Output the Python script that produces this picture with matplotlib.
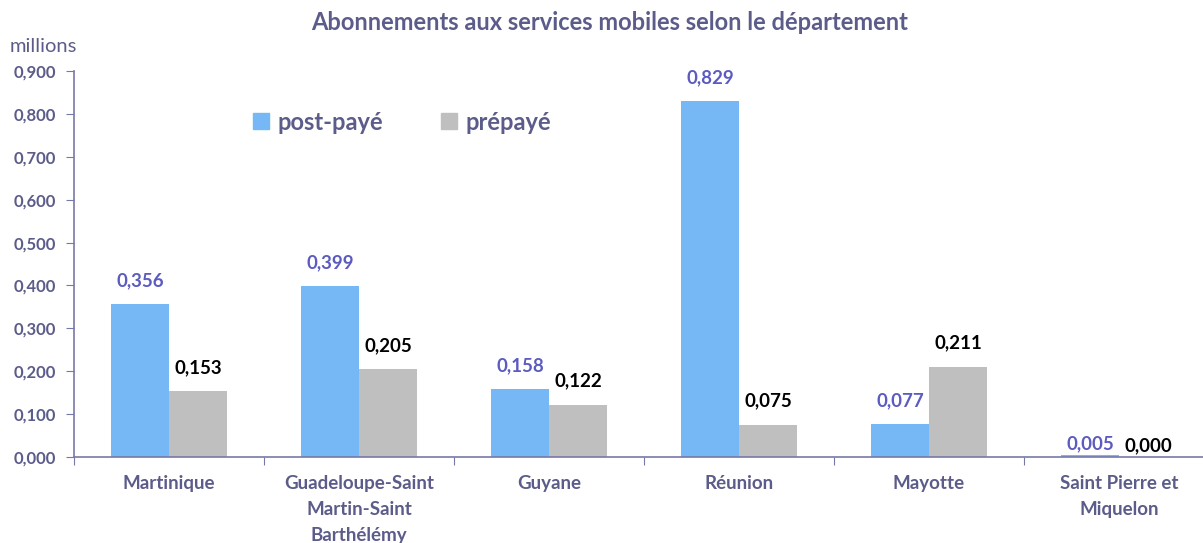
import matplotlib
matplotlib.use("Agg")
import matplotlib.pyplot as plt
import numpy as np
from matplotlib.lines import Line2D

categories = ["Martinique", "Guadeloupe-Saint\nMartin-Saint\nBarthélémy", "Guyane",
              "Réunion", "Mayotte", "Saint Pierre et\nMiquelon"]
post_paye = [0.356, 0.399, 0.158, 0.829, 0.077, 0.005]
prepaye = [0.153, 0.205, 0.122, 0.075, 0.211, 0.000]
series_names = ["post-payé", "prépayé"]
yticks = [0.0, 0.1, 0.2, 0.3, 0.4, 0.5, 0.6, 0.7, 0.8, 0.9]

plt.rcParams['font.family'] = ['Lato', 'DejaVu Sans']
W, H = 1203, 543
fig = plt.figure(figsize=(W / 100, H / 100), dpi=100)
ax = fig.add_axes([74 / W, (H - 457) / H, 1140 / W, 386 / H])

blue = "#75B8F5"
gray = "#BFBFBF"
txt = "#5C5C8A"
axis_col = "#7878A8"
lab_blue = "#5B5BC0"

x = np.arange(len(categories))
bw = 0.305
ax.bar(x - bw / 2, post_paye, bw, color=blue, zorder=2)
ax.bar(x + bw / 2, prepaye, bw, color=gray, zorder=2)

for xi, v in zip(x, post_paye):
    off = 8 if v < 0.01 else 17
    ax.annotate(f"{v:.3f}".replace(".", ","), (xi - bw / 2, v), xytext=(0, off),
                textcoords="offset points", ha="center", va="center",
                fontsize=13.5, fontweight="bold", color=lab_blue, clip_on=False)
for xi, v in zip(x, prepaye):
    off = 8 if v < 0.01 else 17
    ax.annotate(f"{v:.3f}".replace(".", ","), (xi + bw / 2, v), xytext=(0, off),
                textcoords="offset points", ha="center", va="center",
                fontsize=13.5, fontweight="bold", color="black", clip_on=False)

ax.set_xlim(-0.5, len(categories) - 0.5)
ax.set_ylim(0, 0.9)
ax.set_yticks(yticks)
ax.set_yticklabels([f"{t:.3f}".replace(".", ",") for t in yticks],
                   fontsize=12, fontweight="bold", color=txt)
ax.set_xticks(np.arange(len(categories) + 1) - 0.5)
ax.set_xticklabels([])
ax.set_xticks(x, minor=True)
ax.set_xticklabels(categories, minor=True, fontsize=13.5, fontweight="bold",
                   color=txt, linespacing=1.65)
ax.tick_params(axis="x", which="minor", length=0, pad=13)
ax.tick_params(axis="x", which="major", length=6, color=axis_col, direction="out")
ax.tick_params(axis="y", length=6, color=axis_col, direction="out", pad=7)

for s in ["top", "right"]:
    ax.spines[s].set_visible(False)
for s in ["left", "bottom"]:
    ax.spines[s].set_color(axis_col)
    ax.spines[s].set_linewidth(1.2)

fig.text(610 / W, 1 - 23 / H, "Abonnements aux services mobiles selon le département",
         ha="center", va="center", fontsize=17, fontweight="bold", color=txt)
fig.text(10 / W, 1 - 47 / H, "millions", ha="left", va="center", fontsize=14.5, color=txt)

handles = [Line2D([], [], marker="s", linestyle="none", markersize=12, color=blue),
           Line2D([], [], marker="s", linestyle="none", markersize=12, color=gray)]
leg = fig.legend(handles, series_names, loc="center left",
                 bbox_to_anchor=(228 / W, 1 - 122 / H), ncol=2, frameon=False,
                 prop={"family": "Lato", "weight": "bold", "size": 17},
                 handletextpad=0.2, columnspacing=2.3, handlelength=1.0)
for t in leg.get_texts():
    t.set_color(txt)

fig.savefig("out.png", dpi=100)
